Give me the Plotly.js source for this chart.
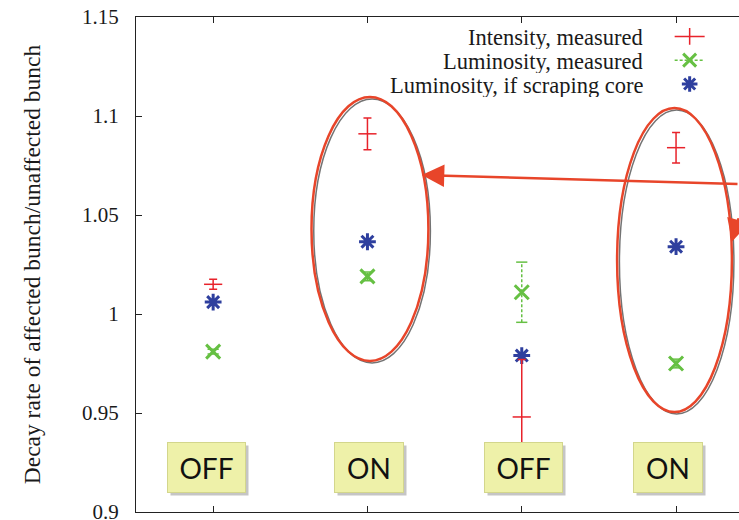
<!DOCTYPE html>
<html>
<head>
<meta charset="utf-8">
<script src="https://cdn.plot.ly/plotly-3.0.1.min.js"></script>
<style>html,body{margin:0;padding:0;background:#fff;overflow:hidden}#chart{width:739px;height:520px}</style>
</head>
<body>
<div id="chart"></div>
<script>
// ---- data ----
const categories = [1, 2, 3, 4];
const states = ['OFF', 'ON', 'OFF', 'ON'];
const intensity = [1.015, 1.091, 0.948, 1.084];
const intensityErr = [0.0025, 0.008, 0.029, 0.0077];
const lumMeasured = [0.981, 1.019, 1.011, 0.975];
const lumErr = [0.0012, 0.0022, 0.0152, 0.0022];
const lumCore = [1.006, 1.0365, 0.979, 1.034];
const legendLabels = ['Intensity, measured', 'Luminosity, measured', 'Luminosity, if scraping core'];
const yTicks = [0.9, 0.95, 1, 1.05, 1.1, 1.15];
const yTickText = ['0.9', '0.95', '1', '1.05', '1.1', '1.15'];

const RED = '#e8232b', GREEN = '#66c043', BLUE = '#2e3f9e';
const SERIF = '"Liberation Serif", "Times New Roman", serif';

// green dashed error bars built from the data
const gx = [], gy = [];
categories.forEach((c, i) => { gx.push(c, c, null); gy.push(lumMeasured[i] - lumErr[i], lumMeasured[i] + lumErr[i], null); });

const traces = [
  { x: gx, y: gy, mode: 'lines+markers', showlegend: false, hoverinfo: 'skip',
    line: { color: GREEN, width: 1.5, dash: '3px,2px' },
    marker: { symbol: 'line-ew-open', size: 8, color: GREEN, line: { color: GREEN, width: 1.5 } } },
  { x: categories, y: lumMeasured, mode: 'markers', name: legendLabels[1], showlegend: false,
    marker: { symbol: 'x-thin-open', size: 14, color: GREEN, line: { color: GREEN, width: 3 } } },
  { x: categories, y: lumCore, mode: 'markers', name: legendLabels[2], showlegend: false,
    marker: { symbol: 'asterisk-open', size: 14, color: BLUE, line: { color: BLUE, width: 3 } } },
  { x: categories, y: intensity, mode: 'markers', name: legendLabels[0], showlegend: false,
    error_y: { type: 'data', array: intensityErr, visible: true, color: RED, thickness: 1.5, width: 4 },
    marker: { symbol: 'line-ew-open', size: 13, color: RED, line: { color: RED, width: 1.5 } } },
  // legend keys
  { x: [null], y: [null], mode: 'lines+markers', name: '', showlegend: true,
    line: { color: RED, width: 1.5 }, marker: { symbol: 'line-ns-open', size: 12, color: RED, line: { color: RED, width: 1.5 } } },
  { x: [null], y: [null], mode: 'lines+markers', name: '', showlegend: true,
    line: { color: GREEN, width: 1.5, dash: '3px,2px' }, marker: { symbol: 'x-thin-open', size: 13, color: GREEN, line: { color: GREEN, width: 3 } } },
  { x: [null], y: [null], mode: 'markers', name: '', showlegend: true,
    marker: { symbol: 'asterisk-open', size: 13, color: BLUE, line: { color: BLUE, width: 3 } } }
];

const annotations = [];
// legend text
const legY = [0.9596, 0.9131, 0.8646];
legendLabels.forEach((t, i) => annotations.push({ xref: 'paper', yref: 'paper', x: 0.842, y: legY[i], xanchor: 'right', yanchor: 'middle',
  text: t, showarrow: false, height: 23, borderpad: 0, yshift: -1, font: { family: SERIF, size: 22.5, color: '#1a1a1a' } }));
// state boxes
const boxShift = [-6.5, 2, 1.5, -8];
categories.forEach((c, i) => {
  const w = states[i] === 'OFF' ? 75 : 66;
  annotations.push({ xref: 'x', yref: 'paper', x: c, y: 0.0889, yanchor: 'middle', xshift: boxShift[i] + 3, yshift: -3, text: ' ', showarrow: false,
    width: w, height: 47, borderpad: 1, borderwidth: 1, bgcolor: 'rgba(90,90,90,0.35)', bordercolor: 'rgba(0,0,0,0)' });
  annotations.push({ xref: 'x', yref: 'paper', x: c, y: 0.0889, yanchor: 'middle', xshift: boxShift[i], text: states[i], showarrow: false,
    width: w, height: 47, borderpad: 1, borderwidth: 1, bgcolor: '#eef1a9', bordercolor: '#d3d68c',
    font: { family: 'Lato, "Open Sans", sans-serif', size: 28, color: '#111' } });
});
// arrows
annotations.push({ xref: 'x', yref: 'y', x: 2.352, y: 1.0702, ax: 330, ay: 9, text: '', showarrow: true,
  arrowhead: 2, arrowsize: 1.8, arrowwidth: 2.5, arrowcolor: '#e8452a' });
annotations.push({ xref: 'x', yref: 'y', x: 4.362, y: 1.0365, ax: 45, ay: -25, text: '', showarrow: true,
  arrowhead: 2, arrowsize: 1.8, arrowwidth: 2.5, arrowcolor: '#e8452a' });

const shapes = [
  { type: 'circle', xref: 'x', yref: 'y', x0: 1.652, x1: 2.408, y0: 0.9753, y1: 1.1086, line: { color: 'rgba(0,0,0,0.55)', width: 1.5 }, layer: 'above' },
  { type: 'circle', xref: 'x', yref: 'y', x0: 1.6375, x1: 2.395, y0: 0.9763, y1: 1.1096, line: { color: '#e8452a', width: 2.5 }, layer: 'above' },
  { type: 'circle', xref: 'x', yref: 'y', x0: 3.633, x1: 4.375, y0: 0.9495, y1: 1.103, line: { color: 'rgba(0,0,0,0.55)', width: 1.5 }, layer: 'above' },
  { type: 'circle', xref: 'x', yref: 'y', x0: 3.618, x1: 4.362, y0: 0.9505, y1: 1.104, line: { color: '#e8452a', width: 2.5 }, layer: 'above' }
];

const layout = {
  width: 739, height: 520,
  margin: { l: 136, r: 0, t: 17, b: 8, pad: 0 },
  paper_bgcolor: '#fff', plot_bgcolor: '#fff',
  showlegend: true,
  legend: { x: 0.885, y: 0.995, xanchor: 'left', yanchor: 'top', bgcolor: 'rgba(0,0,0,0)', font: { size: 16 }, tracegroupgap: 0 },
  xaxis: { range: [0.5, 4.408], tickvals: categories, showticklabels: false, ticks: 'inside', ticklen: 6, tickcolor: '#222',
    showline: true, linecolor: '#222', linewidth: 1, mirror: 'ticks', showgrid: false, zeroline: false, fixedrange: true },
  yaxis: { range: [0.9, 1.15], tickvals: yTicks, ticktext: yTickText, ticks: 'inside', ticklen: 6, tickcolor: '#222',
    showline: true, linecolor: '#222', linewidth: 1, showgrid: false, zeroline: false, ticklabelstandoff: 12,
    ticklabeloverflow: 'allow',
    tickfont: { family: SERIF, size: 21, color: '#1a1a1a' },
    title: { text: 'Decay rate of affected bunch/unaffected bunch', font: { family: SERIF, size: 23.5, color: '#1a1a1a' }, standoff: 34 } },
  annotations: annotations,
  shapes: shapes
};

Plotly.newPlot('chart', traces, layout, { staticPlot: true, displayModeBar: false });
</script>
</body>
</html>
